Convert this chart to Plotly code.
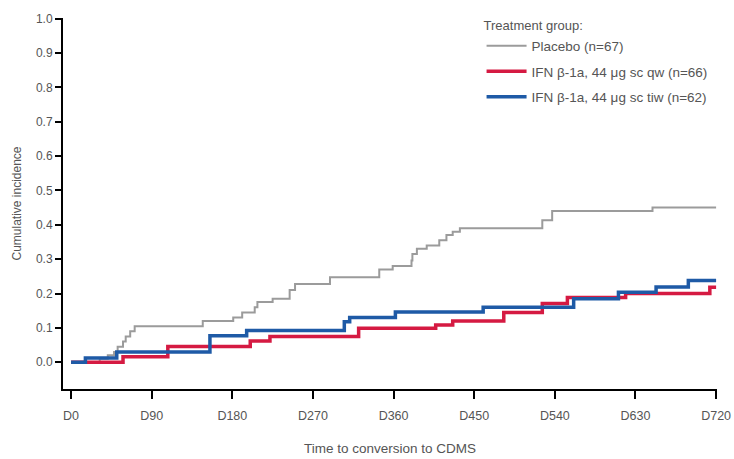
import plotly.graph_objects as go

# Kaplan-Meier style cumulative incidence of conversion to CDMS (days)
placebo_days = [0, 32, 41, 48, 52, 58, 61, 66, 71, 147, 181, 191, 205, 208, 225, 244, 250,
                289, 344, 359, 380, 381, 386, 397, 411, 419, 426, 434, 526, 537, 649, 720]
placebo_inc = [0.0, 0.01, 0.02, 0.03, 0.045, 0.06, 0.075, 0.09, 0.105, 0.12, 0.13, 0.145, 0.16,
               0.175, 0.185, 0.21, 0.228, 0.247, 0.27, 0.28, 0.296, 0.315, 0.33, 0.34, 0.355,
               0.37, 0.38, 0.39, 0.413, 0.44, 0.45, 0.45]

qw_days = [0, 58, 108, 200, 222, 321, 407, 426, 483, 526, 554, 619, 713, 720]
qw_inc = [0.0, 0.016, 0.046, 0.062, 0.075, 0.099, 0.108, 0.12, 0.145, 0.171, 0.188, 0.2,
          0.218, 0.218]

tiw_days = [0, 16, 51, 155, 196, 305, 311, 362, 460, 561, 611, 653, 689, 720]
tiw_inc = [0.0, 0.012, 0.03, 0.077, 0.092, 0.118, 0.13, 0.146, 0.16, 0.185, 0.204, 0.219,
           0.238, 0.238]

x_ticks = [0, 90, 180, 270, 360, 450, 540, 630, 720]
x_tick_labels = ["D0", "D90", "D180", "D270", "D360", "D450", "D540", "D630", "D720"]
y_ticks = [0.0, 0.1, 0.2, 0.3, 0.4, 0.5, 0.6, 0.7, 0.8, 0.9, 1.0]

FONT = "Liberation Sans Narrow, Arial Narrow, Liberation Sans, Arial, sans-serif"
TEXT = "#555555"

fig = go.Figure()
fig.add_trace(go.Scatter(x=placebo_days, y=placebo_inc, mode="lines", line_shape="hv",
                         line=dict(color="#9b9b9b", width=2),
                         name="Placebo (n=67)", legendgroup="a"))
fig.add_trace(go.Scatter(x=qw_days, y=qw_inc, mode="lines", line_shape="hv",
                         line=dict(color="#d51a42", width=3.5),
                         name="IFN β-1a, 44 μg sc qw (n=66)", legendgroup="b"))
fig.add_trace(go.Scatter(x=tiw_days, y=tiw_inc, mode="lines", line_shape="hv",
                         line=dict(color="#1e5aa6", width=3.5),
                         name="IFN β-1a, 44 μg sc tiw (n=62)", legendgroup="c"))

fig.update_layout(
    template="none",
    width=734, height=459,
    margin=dict(l=63, r=17, t=18, b=70, autoexpand=False),
    paper_bgcolor="white", plot_bgcolor="white",
    font=dict(family=FONT, size=12, color=TEXT),
    legend=dict(
        x=0.64, y=1.012, xanchor="left", yanchor="top",
        title=dict(text="Treatment group:", font=dict(size=13, color=TEXT)),
        font=dict(size=13.5, color=TEXT),
        traceorder="grouped", tracegroupgap=5, itemwidth=40,
        bgcolor="rgba(0,0,0,0)",
    ),
    xaxis=dict(
        range=[-9, 721], tickvals=x_ticks, ticktext=x_tick_labels, automargin=False,
        showgrid=False, zeroline=False, showline=True, linecolor="black", linewidth=2,
        ticks="outside", ticklen=8, tickwidth=2, tickcolor="black", ticklabelstandoff=6,
        tickfont=dict(size=12.5, color=TEXT),
        title=dict(text="Time to conversion to CDMS", font=dict(size=13.5, color=TEXT),
                   standoff=22),
    ),
    yaxis=dict(
        range=[-0.078, 1.002], tickvals=y_ticks, tickformat=".1f", automargin=False,
        showgrid=False, zeroline=False, showline=True, linecolor="black", linewidth=2,
        ticks="outside", ticklen=6, tickwidth=2, tickcolor="black",
        tickfont=dict(size=12, color=TEXT),
        title=dict(text="Cumulative incidence", font=dict(size=12, color=TEXT),
                   standoff=12),
    ),
)

fig.write_html("out.html")
